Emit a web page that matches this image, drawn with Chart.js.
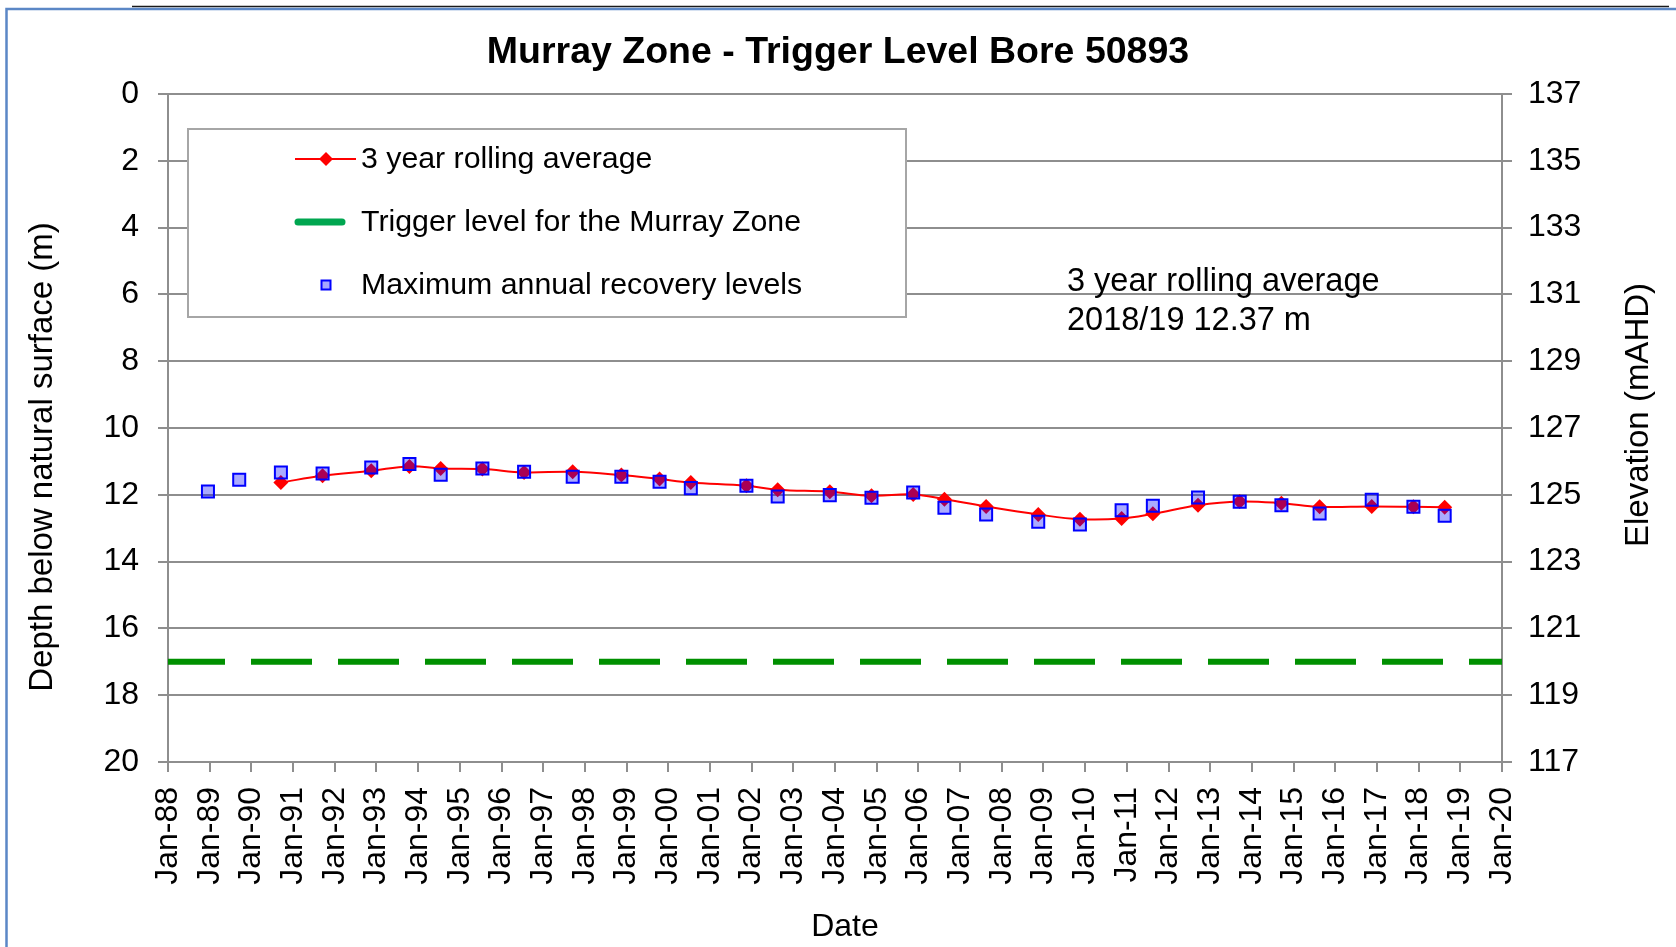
<!DOCTYPE html>
<html>
<head>
<meta charset="utf-8">
<title>Murray Zone - Trigger Level Bore 50893</title>
<script src="https://cdn.jsdelivr.net/npm/chart.js@4.4.1/dist/chart.umd.min.js"></script>
<style>
  html, body { margin: 0; padding: 0; background: #fff; }
  #wrap { width: 1676px; height: 947px; }
</style>
</head>
<body>
<div id="wrap"><canvas id="bore-chart" width="1676" height="947"></canvas></div>
<script>
/* ===== Murray Zone - Trigger Level Bore 50893 ===== */

// Maximum annual recovery readings (year-month)
const recoveryDates = [
  '1988-12', '1989-09', '1990-09', '1991-09', '1992-11', '1993-10', '1994-07', '1995-07',
  '1996-07', '1997-09', '1998-11', '1999-10', '2000-07', '2001-11', '2002-08', '2003-11',
  '2004-11', '2005-11', '2006-08', '2007-08', '2008-11', '2009-11', '2010-11', '2011-08',
  '2012-09', '2013-09', '2014-09', '2015-08', '2016-11', '2017-11', '2018-08'
];

// Depth below natural surface (m) at each reading
const recoveryDepth = [
  11.90, 11.55, 11.33, 11.36, 11.18, 11.08, 11.40, 11.21,
  11.31, 11.46, 11.46, 11.61, 11.80, 11.73, 12.05, 12.01,
  12.09, 11.93, 12.39, 12.59, 12.81, 12.89, 12.46, 12.33,
  12.08, 12.21, 12.31, 12.56, 12.15, 12.36, 12.63
];

// 3 year rolling average (m) - starts at the third reading
const rollingAvgDepth = [
  11.63, 11.43, 11.28, 11.15, 11.21, 11.23, 11.33, 11.31,
  11.41, 11.53, 11.63, 11.73, 11.85, 11.91, 12.03, 11.99,
  12.13, 12.35, 12.59, 12.73, 12.71, 12.57, 12.31, 12.20,
  12.25, 12.36, 12.35, 12.36, 12.37
];

// Trigger level for the Murray Zone (m) and the years it is drawn over
const triggerDepth = 17;
const triggerYears = [1988, 2020];

// Axis ranges
const yearRange      = [1988, 2020];
const depthRange     = [0, 20];
const elevationRange = [117, 137];
const tickStep       = 2;

const FONT = '"Liberation Sans", Arial, Helvetica, sans-serif';
const GRID = '#8e8e8e';

function toYear(s) {
  const [y, m] = s.split('-').map(Number);
  return y + (m - 0.5) / 12;
}

const recoveryPoints = recoveryDates.map((d, i) => ({ x: toYear(d), y: recoveryDepth[i] }));
const rollingPoints  = rollingAvgDepth.map((v, i) => ({ x: toYear(recoveryDates[i + 2]), y: v }));
const triggerPoints  = triggerYears.map(x => ({ x, y: triggerDepth }));

function rotatedText(ctx, text, x, y) {
  ctx.save();
  ctx.translate(x, y);
  ctx.rotate(-Math.PI / 2);
  ctx.fillText(text, 0, 0);
  ctx.restore();
}

// Frame, axis titles, note and the boxed legend
const decorPlugin = {
  id: 'decor',
  beforeDraw(chart) {
    const { ctx, width, height } = chart;
    ctx.save();
    ctx.fillStyle = '#ffffff';
    ctx.fillRect(0, 0, width, height);
    ctx.restore();
  },
  afterDraw(chart) {
    const { ctx, width, height } = chart;
    ctx.save();

    // picture frame
    ctx.lineWidth = 1.5;
    ctx.strokeStyle = '#1a1a1a';
    ctx.beginPath(); ctx.moveTo(132, 6.5); ctx.lineTo(1669, 6.5); ctx.stroke();
    ctx.lineWidth = 2.5;
    ctx.strokeStyle = '#5b87c6';
    ctx.beginPath(); ctx.moveTo(6.5, height); ctx.lineTo(6.5, 9); ctx.lineTo(width, 9); ctx.stroke();

    // axis titles
    ctx.fillStyle = '#000';
    ctx.textAlign = 'center';
    ctx.textBaseline = 'middle';
    ctx.font = `33px ${FONT}`;
    rotatedText(ctx, 'Depth below natural surface (m)', 43, 457);
    rotatedText(ctx, 'Elevation (mAHD)', 1639, 415);
    ctx.font = `32px ${FONT}`;
    ctx.fillText('Date', 845, 927);

    // latest rolling average note
    const latest = rollingAvgDepth[rollingAvgDepth.length - 1];
    ctx.font = `32.5px ${FONT}`;
    ctx.textAlign = 'left';
    ctx.textBaseline = 'alphabetic';
    ctx.fillText('3 year rolling average', 1067, 291);
    ctx.fillText(`2018/19 ${latest.toFixed(2)} m`, 1067, 330);

    // legend box
    const bx = 188, by = 129, bw = 718, bh = 188;
    ctx.fillStyle = '#ffffff';
    ctx.fillRect(bx, by, bw, bh);
    ctx.strokeStyle = '#a6a6a6';
    ctx.lineWidth = 2;
    ctx.strokeRect(bx, by, bw, bh);

    const rows = [159, 222, 285];
    const mx = 326;

    // 3 year rolling average
    ctx.strokeStyle = '#ff0000';
    ctx.lineWidth = 2;
    ctx.beginPath(); ctx.moveTo(295, rows[0]); ctx.lineTo(356, rows[0]); ctx.stroke();
    ctx.fillStyle = '#ff0000';
    ctx.beginPath();
    ctx.moveTo(mx - 7, rows[0]); ctx.lineTo(mx, rows[0] - 7);
    ctx.lineTo(mx + 7, rows[0]); ctx.lineTo(mx, rows[0] + 7);
    ctx.closePath(); ctx.fill();

    // trigger level
    ctx.strokeStyle = '#00a650';
    ctx.lineWidth = 7;
    ctx.lineCap = 'round';
    ctx.beginPath(); ctx.moveTo(298, rows[1]); ctx.lineTo(342, rows[1]); ctx.stroke();
    ctx.lineCap = 'butt';

    // recovery levels
    ctx.fillStyle = 'rgba(0,0,255,0.35)';
    ctx.fillRect(mx - 4.5, rows[2] - 4.5, 9, 9);
    ctx.strokeStyle = '#0000ff';
    ctx.lineWidth = 2;
    ctx.strokeRect(mx - 4.5, rows[2] - 4.5, 9, 9);

    ctx.fillStyle = '#000';
    ctx.font = `30.3px ${FONT}`;
    ctx.textBaseline = 'middle';
    ctx.fillText('3 year rolling average', 361, rows[0] + 1);
    ctx.fillText('Trigger level for the Murray Zone', 361, rows[1] + 1);
    ctx.fillText('Maximum annual recovery levels', 361, rows[2] + 1);

    ctx.restore();
  }
};

Chart.defaults.font.family = FONT;
Chart.defaults.font.size = 32;
Chart.defaults.color = '#000';

const ctx = document.getElementById('bore-chart').getContext('2d');

new Chart(ctx, {
  type: 'line',
  data: {
    datasets: [
      {
        label: 'Maximum annual recovery levels',
        data: recoveryPoints,
        showLine: false,
        pointStyle: 'rect',
        pointRadius: 8.5,
        pointHoverRadius: 8.5,
        pointBackgroundColor: 'rgba(0,0,255,0.33)',
        pointBorderColor: '#0000ff',
        pointBorderWidth: 2,
        order: 0
      },
      {
        label: '3 year rolling average',
        data: rollingPoints,
        borderColor: '#ff0000',
        borderWidth: 2,
        tension: 0.4,
        pointStyle: 'rectRot',
        pointRadius: 7.5,
        pointHoverRadius: 7.5,
        pointBackgroundColor: '#ff0000',
        pointBorderColor: '#ff0000',
        pointBorderWidth: 0,
        order: 1
      },
      {
        label: 'Trigger level for the Murray Zone',
        data: triggerPoints,
        borderColor: '#009000',
        borderWidth: 6,
        borderDash: [61, 26],
        borderDashOffset: 4,
        pointRadius: 0,
        order: 2
      }
    ]
  },
  options: {
    responsive: false,
    devicePixelRatio: 1,
    animation: false,
    layout: { padding: 0 },
    plugins: {
      legend: { display: false },
      tooltip: { enabled: false },
      title: {
        display: true,
        text: 'Murray Zone - Trigger Level Bore 50893',
        color: '#000',
        font: { size: 37.5, weight: 'bold' },
        padding: { top: 30, bottom: 19 }
      }
    },
    scales: {
      x: {
        type: 'linear',
        position: 'bottom',
        min: yearRange[0],
        max: yearRange[1],
        ticks: {
          stepSize: 1,
          autoSkip: false,
          maxRotation: 90,
          minRotation: 90,
          padding: 15,
          callback: v => 'Jan-' + String(v % 100).padStart(2, '0')
        },
        grid: { drawOnChartArea: false, tickLength: 10, color: GRID, lineWidth: 2 },
        border: { color: GRID, width: 2 },
        afterFit: s => { s.height = 185; }
      },
      y: {
        position: 'left',
        reverse: true,
        min: depthRange[0],
        max: depthRange[1],
        ticks: { stepSize: tickStep, padding: 19 },
        grid: { color: GRID, lineWidth: 2, tickLength: 10 },
        border: { color: GRID, width: 2 },
        afterFit: s => { s.width = 168; }
      },
      y2: {
        position: 'right',
        min: elevationRange[0],
        max: elevationRange[1],
        ticks: { stepSize: tickStep, padding: 16 },
        grid: { drawOnChartArea: false, tickLength: 10, color: GRID, lineWidth: 2 },
        border: { color: GRID, width: 2 },
        afterFit: s => { s.width = 174; }
      }
    }
  },
  plugins: [decorPlugin]
});
</script>
</body>
</html>
